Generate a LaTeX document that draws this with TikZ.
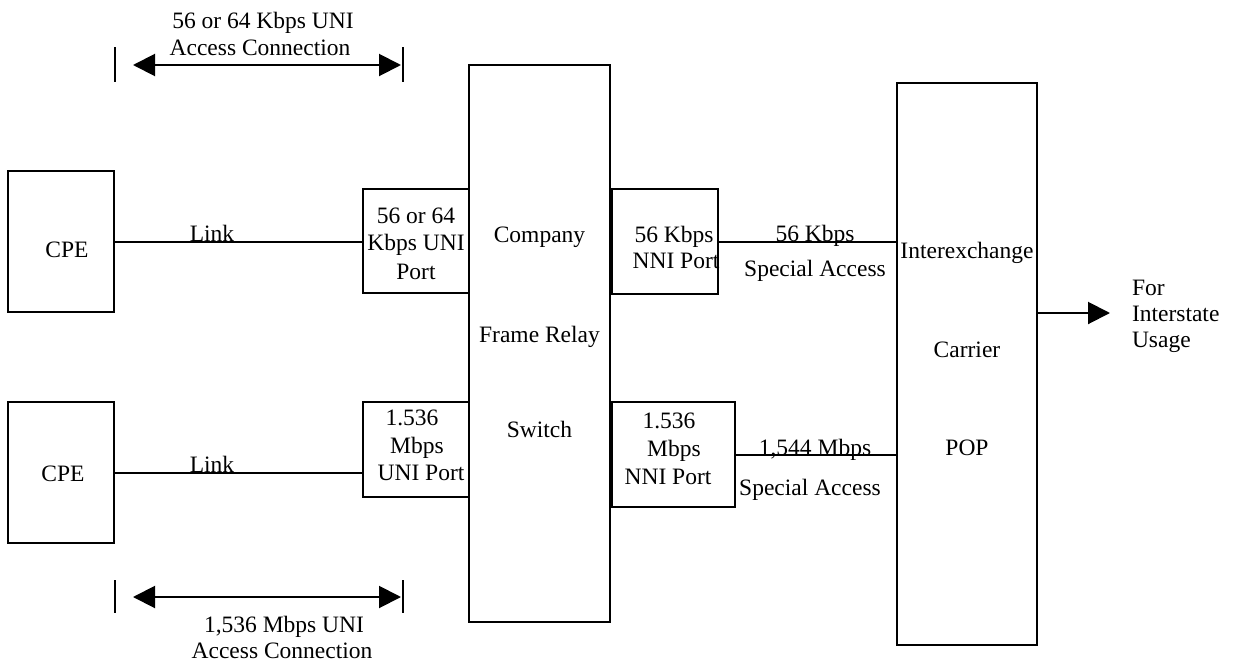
\documentclass[tikz,border=0pt]{standalone}
\usepackage{fontspec}
\setmainfont{Liberation Serif}
\usetikzlibrary{arrows.meta}
\begin{document}
\begin{tikzpicture}[x=1pt,y=-1pt,line width=2pt,
  box/.style={draw,line width=2pt,inner sep=0pt,outer sep=0pt},
  txt/.style={font=\fontsize{23.5}{27}\selectfont,inner sep=0pt,anchor=base},
  ltxt/.style={txt,anchor=base west},
  tipr/.style={-{Triangle[length=22pt,width=22pt]}},
  tipb/.style={{Triangle[length=22pt,width=22pt]}-{Triangle[length=22pt,width=22pt]}},
  bar/.style={line width=2pt}]
\useasboundingbox (0,0) rectangle (1235,664);
% boxes
\node[box,minimum width=106pt,minimum height=141pt] (cpe1) at (61,241.5) {};
\node[box,minimum width=106pt,minimum height=141pt] (cpe2) at (61,472.5) {};
\node[box,minimum width=106pt,minimum height=104pt] (uni1) at (416,241) {};
\node[box,minimum width=106pt,minimum height=95pt] (uni2) at (416,449.5) {};
\node[box,minimum width=141pt,minimum height=557pt] (sw) at (539.5,343.5) {};
\node[box,minimum width=106pt,minimum height=105pt] (nni1) at (665,241.5) {};
\node[box,minimum width=123pt,minimum height=105pt] (nni2) at (673.5,454.5) {};
\node[box,minimum width=140pt,minimum height=562pt] (ixc) at (967,364) {};
% texts in boxes
\node[txt] (tcpe1) at (67,257) {CPE};
\node[txt] (tcpe2) at (63,481) {CPE};
\node[txt] (tu1a) at (416,223) {56 or 64};
\node[txt] (tu1b) at (416,250) {Kbps UNI};
\node[txt] (tu1c) at (416,279) {Port};
\node[txt] (tu2a) at (412,425) {1.536};
\node[txt] (tu2b) at (417,453) {Mbps};
\node[txt] (tu2c) at (421,480) {UNI Port};
\node[txt] (tsa) at (539.5,242) {Company};
\node[txt] (tsb) at (539.5,342) {Frame Relay};
\node[txt] (tsc) at (539.5,437) {Switch};
\node[txt] (tn1a) at (674,242) {56 Kbps};
\node[txt] (tn1b) at (676,268) {NNI Port};
\node[txt] (tn2a) at (669,428) {1.536};
\node[txt] (tn2b) at (674,456) {Mbps};
\node[txt] (tn2c) at (668,484) {NNI Port};
\node[txt] (tia) at (967,258) {Interexchange};
\node[txt] (tib) at (967,357) {Carrier};
\node[txt] (tic) at (967,455) {POP};
% connectors
\draw (cpe1.east) -- (cpe1.east -| uni1.west);
\draw (cpe2.east) -- (cpe2.east -| uni2.west);
\draw (nni1.east) -- (nni1.east -| ixc.west);
\draw (nni2.east) -- (nni2.east -| ixc.west);
\node[txt] (l1) at (212,241) {Link};
\node[txt] (l2) at (212,472) {Link};
\node[txt] (s1a) at (815,241) {56 Kbps};
\node[txt] (s1b) at (815,276) {Special Access};
\node[txt] (s2a) at (815,455) {1,544 Mbps};
\node[txt] (s2b) at (810,495) {Special Access};
% outgoing arrow
\coordinate (out) at (1110,313);
\draw[tipr] (ixc.east |- out) -- (out);
\node[ltxt] (fa) at (1131,295) {For};
\node[ltxt] (fb) at (1131,321) {Interstate};
\node[ltxt] (fc) at (1131,347) {Usage};
% top dimension
\coordinate (d1a) at (115,47); \coordinate (d1b) at (115,82);
\coordinate (d1c) at (403,47); \coordinate (d1d) at (403,82);
\draw[bar] (d1a) -- (d1b);
\draw[bar] (d1c) -- (d1d);
\coordinate (a1l) at (133,65); \coordinate (a1r) at (401,65);
\draw[tipb] (a1l) -- (a1r);
\node[txt] (dt1a) at (263,28) {56 or 64 Kbps UNI};
\node[txt] (dt1b) at (260,55) {Access Connection};
% bottom dimension
\coordinate (d2a) at (115,580); \coordinate (d2b) at (115,613);
\coordinate (d2c) at (403,580); \coordinate (d2d) at (403,613);
\draw[bar] (d2a) -- (d2b);
\draw[bar] (d2c) -- (d2d);
\coordinate (a2l) at (133,597); \coordinate (a2r) at (401,597);
\draw[tipb] (a2l) -- (a2r);
\node[txt] (dt2a) at (284,632) {1,536 Mbps UNI};
\node[txt] (dt2b) at (282,658) {Access Connection};
\end{tikzpicture}
\end{document}
